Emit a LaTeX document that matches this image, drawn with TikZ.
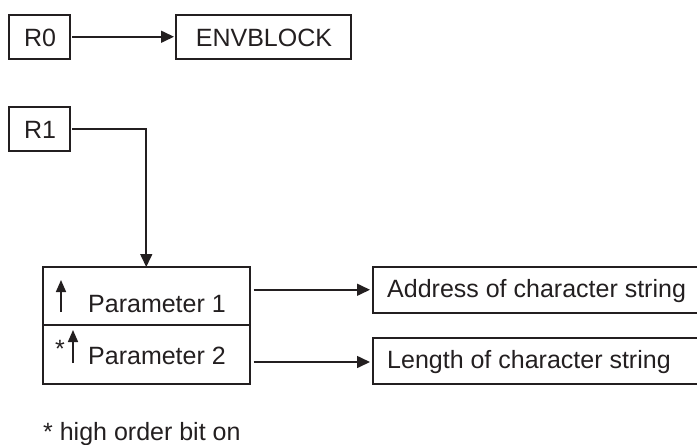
\documentclass[tikz,border=0pt]{standalone}
\usepackage{fontspec}
\setmainfont{Liberation Sans}
\usetikzlibrary{arrows.meta}
\definecolor{ink}{HTML}{231F20}
\begin{document}
\begin{tikzpicture}[x=1pt,y=-1pt,
  box/.style={draw=ink, line width=1.5pt, rectangle, inner sep=0pt, anchor=north west},
  txt/.style={inner sep=0pt, anchor=base west, text=ink, font=\fontsize{25}{30}\selectfont},
  ctxt/.style={inner sep=0pt, anchor=base, text=ink, font=\fontsize{25}{30}\selectfont},
  conn/.style={draw=ink, line width=1.6pt, -{Triangle[length=13pt,width=12pt]}},
  uparrow/.style={draw=ink, line width=1.6pt, -{Triangle[length=12pt,width=10pt]}}]
\useasboundingbox (0,0) rectangle (697,445);
% boxes
\node[box, minimum width=61pt, minimum height=44pt] (r0) at (8,14) {};
\node[box, minimum width=175pt, minimum height=44pt] (env) at (175,14) {};
\node[box, minimum width=61pt, minimum height=44pt] (r1) at (8,106) {};
\node[box, minimum width=207pt, minimum height=58pt] (p1) at (42,266) {};
\node[box, minimum width=207pt, minimum height=59pt] (p2) at (42,324) {};
\node[box, minimum width=340pt, minimum height=46pt] (addr) at (372,266) {};
\node[box, minimum width=340pt, minimum height=46pt] (len) at (372,337) {};
% texts
\node[ctxt] (tr0) at (40,46) {R0};
\node[ctxt] (tenv) at (264,46) {ENVBLOCK};
\node[ctxt] (tr1) at (40,138) {R1};
\node[txt] (tp1) at (88,312) {Parameter 1};
\node[txt] (tp2) at (88,364) {Parameter 2};
\node[txt] (star) at (55,357) {*};
\node[txt] (taddr) at (387,297) {Address of character string};
\node[txt] (tlen) at (387,368) {Length of character string};
\node[txt] (foot) at (43,440) {* high order bit on};
% connectors
\draw[conn] ([xshift=1.5pt]r0.east) -- ([xshift=-1pt]env.west);
\draw[draw=ink, line width=1.6pt, -{Triangle[length=13pt,width=12pt]}]
  ([xshift=1.5pt]r1.east) -| ([yshift=-1pt]p1.north);
\draw[conn] ([xshift=3pt]p1.east |- addr.west) -- ([xshift=-2pt]addr.west);
\draw[conn] ([xshift=3pt]p2.east |- 0,362) -- ([xshift=-2pt]len.west |- 0,362);
% upward arrows
\coordinate (a1s) at (61,312);
\coordinate (a1e) at (61,280);
\coordinate (a2s) at (73,363);
\coordinate (a2e) at (73,330);
\draw[uparrow] (a1s) -- (a1e);
\draw[uparrow] (a2s) -- (a2e);
\end{tikzpicture}
\end{document}
